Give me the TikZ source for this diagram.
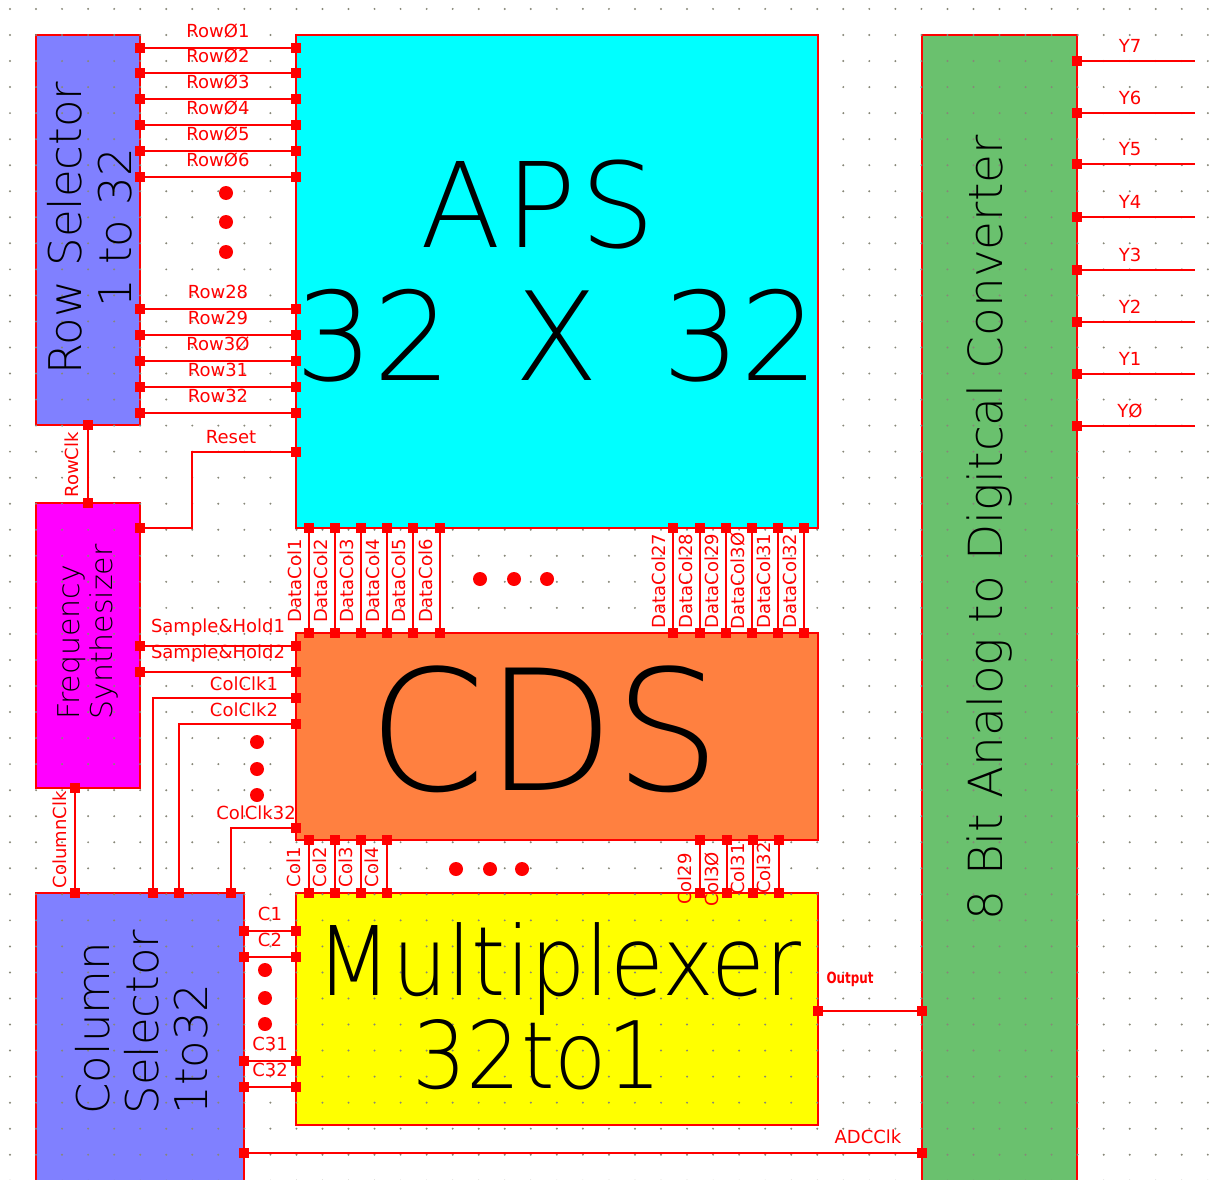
\documentclass[tikz,border=0pt]{standalone}
\usepackage{fontspec}
\usepackage{graphicx}
\setmainfont{DejaVu Sans}
\newfontfamily\thinfont{DejaVu Sans ExtraLight}
\definecolor{selblue}{RGB}{128,128,255}
\definecolor{apscyan}{RGB}{0,255,255}
\definecolor{synmag}{RGB}{255,0,255}
\definecolor{cdsorange}{RGB}{255,128,64}
\definecolor{muxyellow}{RGB}{255,255,0}
\definecolor{adcgreen}{RGB}{106,193,110}
\definecolor{wirered}{RGB}{255,0,0}
\definecolor{griddot}{RGB}{135,135,120}
\tikzset{
  block/.style={draw=wirered, line width=2pt, rectangle, inner sep=0pt, outer sep=0pt, anchor=north west},
  wire/.style={draw=wirered, line width=2pt},
  pinsq/.style={fill=wirered, rectangle, minimum size=10pt, inner sep=0pt, outer sep=0pt},
  lbl/.style={text=wirered, font=\fontsize{18}{18}\selectfont, inner sep=0pt},
  lblup/.style={lbl, above=9pt},
  ell/.style={fill=wirered, circle, minimum size=14pt, inner sep=0pt},
  bigtext/.style={text=black, inner sep=0pt, anchor=base},
  blocktext/.style={text=black, inner sep=0pt, rotate=90},
}
\begin{document}
\begin{tikzpicture}[x=1pt,y=-1pt]
\useasboundingbox (0,0) rectangle (1210,1180);
\clip (0,0) rectangle (1210,1180);
\fill[white] (0,0) rectangle (1210,1180);

% blocks with visible grid
\node[block, fill=selblue, minimum width=104pt, minimum height=390pt] (rowsel) at (36,35) {};
\node[block, fill=synmag, minimum width=104pt, minimum height=285pt] (freqsyn) at (36,503) {};
\node[block, fill=muxyellow, minimum width=522pt, minimum height=232pt] (mux) at (296,893) {};
\node[block, fill=selblue, minimum width=208pt, minimum height=300pt] (colsel) at (36,893) {};
\node[block, fill=adcgreen, minimum width=155pt, minimum height=1160pt] (adc) at (922,35) {};

% grid
\foreach \i in {0,...,46}{
  \foreach \j in {-1,...,44}{
    \fill[griddot] ({10+26.04*\i},{35+26.04*\j}) circle (1.1pt);
  }
}

% blocks without visible grid
\node[block, fill=apscyan, minimum width=522pt, minimum height=493pt] (aps) at (296,35) {};
\node[block, fill=cdsorange, minimum width=522pt, minimum height=207pt] (cds) at (296,633) {};

% big texts
\node[bigtext, font=\thinfont\fontsize{118}{118}\selectfont] (apst) at (538,247) {A\hspace{4pt}P\hspace{4pt}S};
\node[bigtext, font=\thinfont\fontsize{123}{123}\selectfont] (apsn) at (557,380) {32\hspace{24pt} X \hspace{24pt}32};
\node[bigtext, font=\thinfont\fontsize{168}{168}\selectfont] (cdst) at (545,790) {CDS};
\node[bigtext, font=\thinfont\fontsize{96}{96}\selectfont] (muxt) at (559,995) {\scalebox{0.91}[1]{Multiplexer}};
\node[bigtext, font=\thinfont\fontsize{93}{93}\selectfont] (muxn) at (537,1088) {\scalebox{0.92}[1]{32to1}};
\node[blocktext, align=center, font=\thinfont\fontsize{45}{50}\selectfont] (rowselt) at (90,228) {Row Selector\\1 to 32};
\node[blocktext, align=left, font=\thinfont\fontsize{30}{33}\selectfont] (freqsynt) at (88,632) {Frequency\\Synthesizer};
\node[blocktext, align=left, font=\thinfont\fontsize{45}{49}\selectfont] (colselt) at (142,1022) {Column\\Selector\\1to32};
\node[blocktext, font=\thinfont\fontsize{47}{47}\selectfont] (adct) at (990,528) {8 Bit Analog to Digitcal Converter};

% row lines
\foreach \y/\t [count=\i] in {48/RowØ1,73/RowØ2,99/RowØ3,125/RowØ4,151/RowØ5,177/RowØ6,309/Row28,335/Row29,361/Row3Ø,387/Row31,413/Row32}{
  \node[pinsq] (rs\i) at (140,\y) {};
  \node[pinsq] (ra\i) at (296,\y) {};
  \draw[wire] (rs\i.center) -- node[lblup] {\t} (ra\i.center);
}
\node[ell] (rdot1) at (226,193) {};
\node[ell] (rdot2) at (226,222) {};
\node[ell] (rdot3) at (226,252) {};

% RowClk
\node[pinsq] (rsclk) at (88,425) {};
\node[pinsq] (fsclk) at (88,503) {};
\draw[wire] (rsclk.center) -- (fsclk.center);
\node[lbl, rotate=90] (rowclkl) at (72,465) {RowClk};

% Reset
\node[pinsq] (fsrst) at (140,528) {};
\node[pinsq] (apsrst) at (296,452) {};
\coordinate (rstbend) at (192,528);
\draw[wire] (fsrst.center) -- (rstbend) |- (apsrst.center);
\node[lbl] (rstl) at (231,437) {Reset};

% DataCol lines
\foreach \x/\t [count=\i] in {309/DataCol1,335/DataCol2,361/DataCol3,387/DataCol4,413/DataCol5,440/DataCol6,673/DataCol27,700/DataCol28,726/DataCol29,752/DataCol3Ø,778/DataCol31,804/DataCol32}{
  \node[pinsq] (da\i) at (\x,528) {};
  \node[pinsq] (dc\i) at (\x,633) {};
  \draw[wire] (da\i.center) -- (dc\i.center);
  \node[lbl, rotate=90] (dl\i) at ({\x-14},581) {\t};
}
\node[ell] (ddot1) at (480,579) {};
\node[ell] (ddot2) at (514,579) {};
\node[ell] (ddot3) at (547,579) {};

% Sample & Hold
\node[pinsq] (sh1a) at (140,646) {};
\node[pinsq] (sh1b) at (296,646) {};
\node[pinsq] (sh2a) at (140,672) {};
\node[pinsq] (sh2b) at (296,672) {};
\draw[wire] (sh1a.center) -- node[lblup] {Sample\&Hold1} (sh1b.center);
\draw[wire] (sh2a.center) -- node[lblup] {Sample\&Hold2} (sh2b.center);

% Column clocks
\node[pinsq] (cc1) at (296,698) {};
\node[pinsq] (cc2) at (296,724) {};
\node[pinsq] (cc32) at (296,828) {};
\node[pinsq] (csc1) at (153,893) {};
\node[pinsq] (csc2) at (179,893) {};
\node[pinsq] (csc32) at (231,893) {};
\draw[wire] (cc1.center) -| (csc1.center);
\draw[wire] (cc2.center) -| (csc2.center);
\draw[wire] (cc32.center) -| (csc32.center);
\node[lbl] (cc1l) at (244,684) {ColClk1};
\node[lbl] (cc2l) at (244,710) {ColClk2};
\node[lbl] (cc32l) at (256,813) {ColClk32};
\node[ell] (cdot1) at (257,742) {};
\node[ell] (cdot2) at (257,769) {};
\node[ell] (cdot3) at (257,795) {};

% ColumnClk
\node[pinsq] (fscol) at (75,788) {};
\node[pinsq] (cscol) at (75,893) {};
\draw[wire] (fscol.center) -- (cscol.center);
\node[lbl, rotate=90] (colclkl) at (60,840) {ColumnClk};

% Col lines CDS -> Mux
\foreach \x/\t/\ly [count=\i] in {309/Col1/867,335/Col2/867,361/Col3/867,387/Col4/867,700/Col29/879,727/Col3Ø/879,753/Col31/869,779/Col32/868}{
  \node[pinsq] (ca\i) at (\x,840) {};
  \node[pinsq] (cb\i) at (\x,893) {};
  \draw[wire] (ca\i.center) -- (cb\i.center);
  \node[lbl, rotate=90] (cl\i) at ({\x-15},\ly) {\t};
}
\node[ell] (mdot1) at (456,869) {};
\node[ell] (mdot2) at (490,869) {};
\node[ell] (mdot3) at (522,869) {};

% C lines column selector -> mux
\foreach \y/\t [count=\i] in {931/C1,957/C2,1061/C31,1087/C32}{
  \node[pinsq] (sc\i) at (244,\y) {};
  \node[pinsq] (mc\i) at (296,\y) {};
  \draw[wire] (sc\i.center) -- node[lblup] {\t} (mc\i.center);
}
\node[ell] (sdot1) at (265,970) {};
\node[ell] (sdot2) at (265,998) {};
\node[ell] (sdot3) at (265,1024) {};

% Output
\node[pinsq] (muxo) at (818,1011) {};
\node[pinsq] (adci) at (922,1011) {};
\draw[wire] (muxo.center) -- (adci.center);
\node[lbl, font=\bfseries\fontsize{14}{14}\selectfont] (outl) at (850,979) {\scalebox{0.85}[1.1]{Output}};

% ADCClk
\node[pinsq] (csadc) at (244,1153) {};
\node[pinsq] (adcclk) at (922,1153) {};
\draw[wire] (csadc.center) -- (adcclk.center);
\node[lbl] (adcclkl) at (868,1137) {ADCClk};

% Y outputs
\foreach \y/\t [count=\i] in {61/Y7,113/Y6,164/Y5,217/Y4,270/Y3,322/Y2,374/Y1,426/YØ}{
  \node[pinsq] (yp\i) at (1077,\y) {};
  \coordinate (ye\i) at (1195,\y);
  \draw[wire] (yp\i.center) -- (ye\i);
  \node[lbl] (yl\i) at (1130,{\y-15}) {\t};
}
\end{tikzpicture}
\end{document}
